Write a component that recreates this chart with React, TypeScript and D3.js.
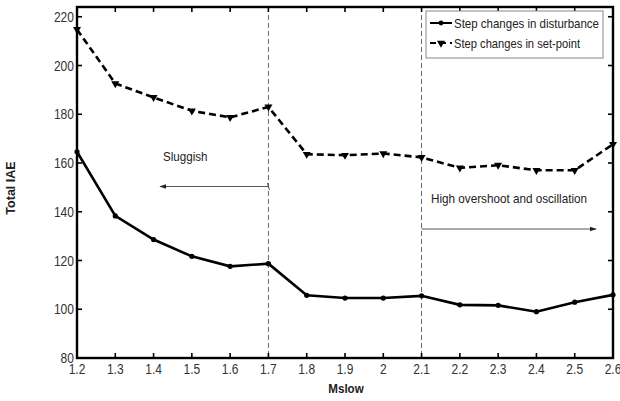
import React from "react";
import * as d3 from "d3";

const mslow = [1.2, 1.3, 1.4, 1.5, 1.6, 1.7, 1.8, 1.9, 2.0, 2.1, 2.2, 2.3, 2.4, 2.5, 2.6];
const disturbance = [164.6, 138.3, 128.6, 121.7, 117.6, 118.7, 105.7, 104.6, 104.6, 105.5, 101.8, 101.6, 99.0, 102.9, 105.9];
const setpoint = [214.8, 192.6, 186.9, 181.4, 178.7, 183.0, 163.6, 163.2, 163.9, 162.3, 158.0, 159.1, 157.0, 157.0, 167.7];
const xTicks = [1.2, 1.3, 1.4, 1.5, 1.6, 1.7, 1.8, 1.9, 2.0, 2.1, 2.2, 2.3, 2.4, 2.5, 2.6];
const yTicks = [80, 100, 120, 140, 160, 180, 200, 220];
const regionBounds = [1.7, 2.1];
const legendLabels = ["Step changes in disturbance", "Step changes in set-point"];

const FONT = "'Liberation Sans', Arial, sans-serif";
const SX = 0.86;

export default function App() {
  const W = 620, H = 401;
  const L = 77, R = 613, T = 7, B = 358;
  const x = d3.scaleLinear().domain([1.2, 2.6]).range([L, R]);
  const y = d3.scaleLinear().domain([80, 224]).range([B, T]);
  const line = d3.line<number>().x((_, i) => x(mslow[i])).y((v) => y(v));
  const tri = d3.symbol().type(d3.symbolTriangle).size(28)();

  return (
    <svg width={W} height={H} style={{ position: "absolute", left: 0, top: 0, background: "#fff" }}>
      <defs>
        <marker id="ah" viewBox="0 0 10 10" refX="9" refY="5" markerWidth="7" markerHeight="7" orient="auto-start-reverse">
          <path d="M0,1.5 L10,5 L0,8.5 Z" fill="#222" />
        </marker>
      </defs>
      <rect x={0} y={0} width={W} height={H} fill="#fff" />
      {regionBounds.map((b) => (
        <line key={b} x1={x(b)} x2={x(b)} y1={T} y2={B} stroke="#666" strokeWidth={1} strokeDasharray="5,3" />
      ))}
      <path d={line(setpoint) || ""} fill="none" stroke="#000" strokeWidth={2.6} strokeDasharray="7,4" />
      {setpoint.map((v, i) => (
        <path key={i} d={tri} transform={`translate(${x(mslow[i])},${y(v)}) rotate(180)`} fill="#000" />
      ))}
      <path d={line(disturbance) || ""} fill="none" stroke="#000" strokeWidth={2.6} />
      {disturbance.map((v, i) => (
        <circle key={i} cx={x(mslow[i])} cy={y(v)} r={2.6} fill="#000" />
      ))}
      <text transform={`translate(163,161) scale(${SX},1)`} fontFamily={FONT} fontSize={13.5} fill="#222">Sluggish</text>
      <line x1={x(1.7)} x2={160} y1={186.5} y2={186.5} stroke="#555" strokeWidth={1} markerEnd="url(#ah)" />
      <line x1={x(1.7) - 1} x2={x(1.7) + 1} y1={183} y2={190} stroke="#555" strokeWidth={1} />
      <text x={431} y={203} fontFamily={FONT} fontSize={13} fill="#222" textLength={156} lengthAdjust="spacingAndGlyphs">High overshoot and oscillation</text>
      <line x1={x(2.1)} x2={596} y1={229} y2={229} stroke="#555" strokeWidth={1} markerEnd="url(#ah)" />
      <rect x={L} y={T} width={R - L} height={B - T} fill="none" stroke="#000" strokeWidth={2.4} />
      {xTicks.map((t) => (
        <g key={"x" + t}>
          <line x1={x(t)} x2={x(t)} y1={B} y2={B - 5} stroke="#000" strokeWidth={1.6} />
          <line x1={x(t)} x2={x(t)} y1={T} y2={T + 5} stroke="#000" strokeWidth={1.6} />
          <text transform={`translate(${x(t)},374) scale(${SX},1)`} textAnchor="middle" fontFamily={FONT} fontSize={14} fill="#333">{String(t)}</text>
        </g>
      ))}
      {yTicks.map((t) => (
        <g key={"y" + t}>
          <line x1={L} x2={L + 5} y1={y(t)} y2={y(t)} stroke="#000" strokeWidth={1.6} />
          <line x1={R} x2={R - 5} y1={y(t)} y2={y(t)} stroke="#000" strokeWidth={1.6} />
          <text transform={`translate(74,${y(t) + 5}) scale(${SX},1)`} textAnchor="end" fontFamily={FONT} fontSize={14} fill="#333">{t}</text>
        </g>
      ))}
      <rect x={426} y={11} width={177} height={47} fill="#fff" stroke="#888" strokeWidth={1} />
      <line x1={430} x2={452} y1={23} y2={23} stroke="#000" strokeWidth={2} />
      <circle cx={441} cy={23} r={2.4} fill="#000" />
      <text x={454} y={27.5} fontFamily={FONT} fontSize={13} fill="#222" textLength={145} lengthAdjust="spacingAndGlyphs">{legendLabels[0]}</text>
      <line x1={430} x2={452} y1={43} y2={43} stroke="#000" strokeWidth={2} strokeDasharray="6,4" />
      <path d={tri} transform={`translate(441,43) rotate(180)`} fill="#000" />
      <text x={454} y={47.5} fontFamily={FONT} fontSize={13} fill="#222" textLength={126} lengthAdjust="spacingAndGlyphs">{legendLabels[1]}</text>
      <text transform={`translate(346,393) scale(${SX},1)`} textAnchor="middle" fontFamily={FONT} fontWeight="bold" fontSize={13.5} fill="#222">Mslow</text>
      <text transform="translate(15,188) rotate(-90)" textAnchor="middle" fontFamily={FONT} fontWeight="bold" fontSize={12.5} fill="#222">Total IAE</text>
    </svg>
  );
}
